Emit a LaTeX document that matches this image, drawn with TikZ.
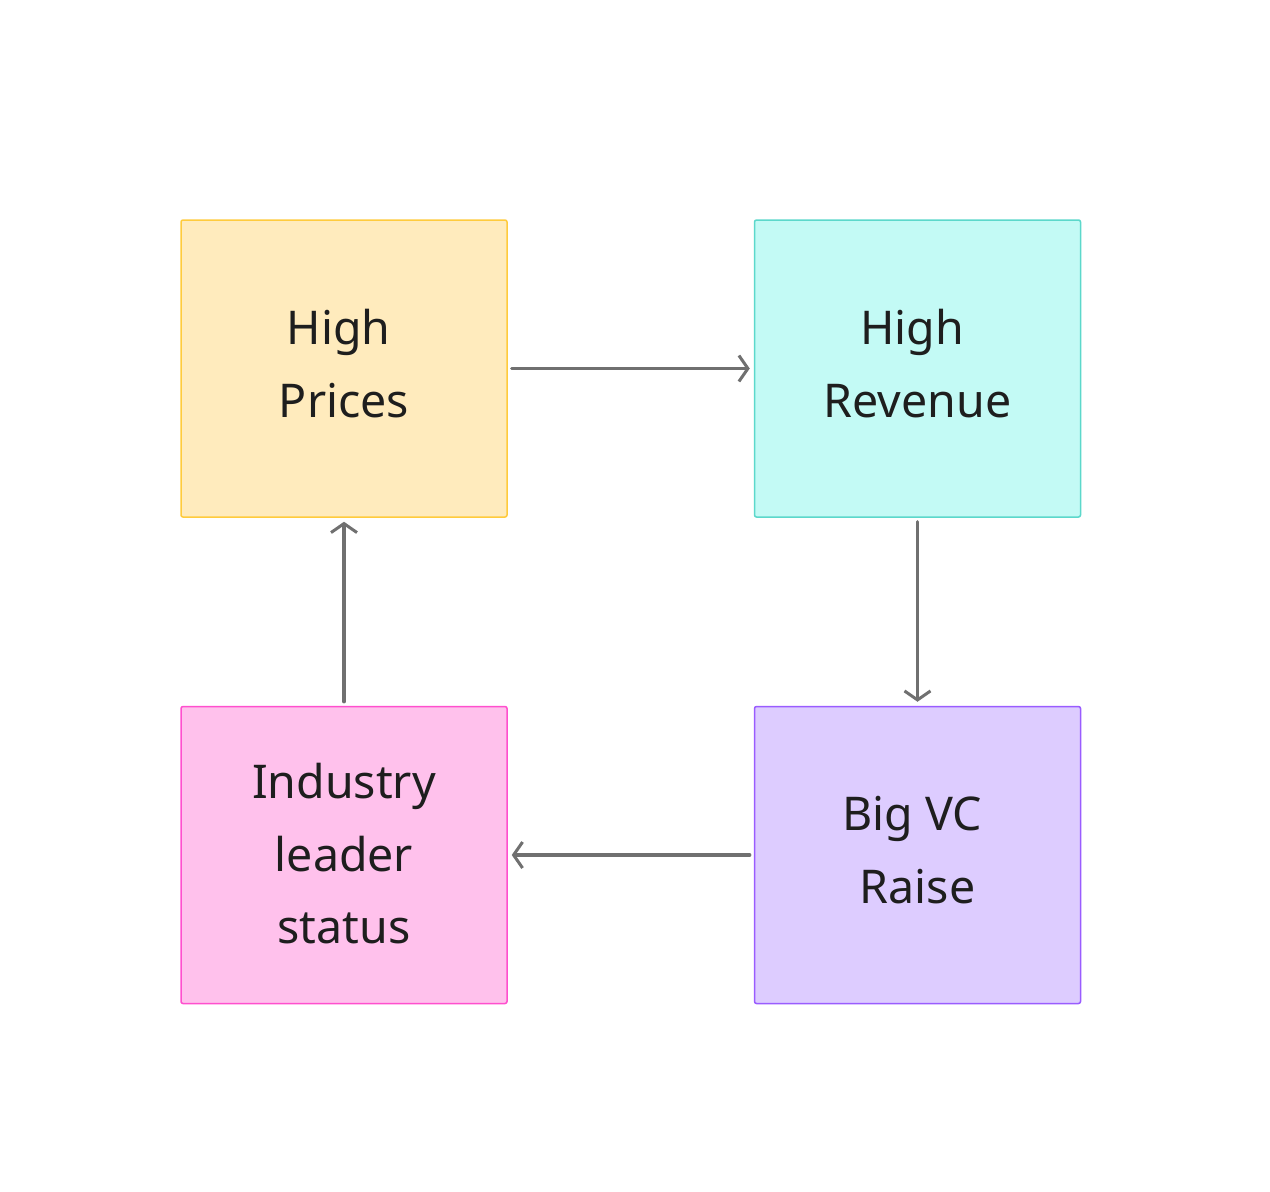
\documentclass[tikz,border=0pt]{standalone}
\usepackage{fontspec}
\setmainfont{Noto Sans}
\usetikzlibrary{arrows.meta}
\definecolor{yelfill}{HTML}{FFEBBD}
\definecolor{yeldraw}{HTML}{FFCB3D}
\definecolor{cyfill}{HTML}{C3FAF5}
\definecolor{cydraw}{HTML}{5CD8CB}
\definecolor{pkfill}{HTML}{FFC1EC}
\definecolor{pkdraw}{HTML}{FF4FCE}
\definecolor{pufill}{HTML}{DDCCFF}
\definecolor{pudraw}{HTML}{9A5CFF}
\definecolor{arrgray}{HTML}{707070}
\definecolor{txt}{HTML}{1E1E1E}
\begin{document}
\begin{tikzpicture}[x=1pt,y=-1pt,
  sticky/.style={draw, line width=1.5pt, rounded corners=2pt, minimum width=326pt, minimum height=297pt, inner sep=0pt},
  stickytext/.style={align=center, text=txt, inner sep=0pt, font=\fontsize{46.5}{72.5}\selectfont},
  conn/.style={draw=arrgray, line width=3.2pt, line cap=round, -{Straight Barb[length=9pt,width=26pt,line width=3pt]}, shorten <=4pt, shorten >=4pt}]
\useasboundingbox (0,0) rectangle (1270,1192);
\fill[white] (0,0) rectangle (1270,1192);
\node[sticky, fill=yelfill, draw=yeldraw, label={[stickytext, yshift=5pt]center:High\kern11pt\\Prices}] (prices) at (344,368.5) {};
\node[sticky, fill=cyfill, draw=cydraw, label={[stickytext, yshift=5pt]center:High\kern11pt\\Revenue}] (revenue) at (917.5,368.5) {};
\node[sticky, fill=pkfill, draw=pkdraw, label={[stickytext, yshift=1pt]center:Industry\\leader\\status}] (industry) at (344,855) {};
\node[sticky, fill=pufill, draw=pudraw, label={[stickytext, yshift=5pt]center:Big VC\kern11pt\\Raise}] (vc) at (917.5,855) {};
\draw[conn] (prices.east) -- (revenue.west);
\draw[conn] (revenue.south) -- (vc.north);
\draw[conn] (vc.west) -- (industry.east);
\draw[conn] (industry.north) -- (prices.south);
\end{tikzpicture}
\end{document}
